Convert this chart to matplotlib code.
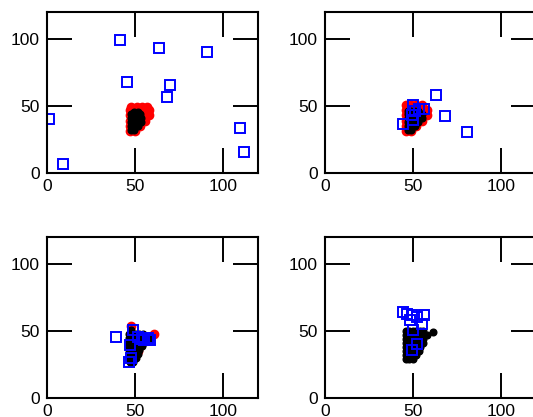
import matplotlib
matplotlib.use("Agg")
import matplotlib.pyplot as plt

plt.rcParams['font.family'] = ['Liberation Sans', 'DejaVu Sans']

# panel 1
red1_x = [47, 50, 47, 50, 53, 47, 50, 53, 56, 47, 50, 53, 56, 58, 47, 50, 53, 56, 58, 48, 51, 54, 57]
red1_y = [31, 31, 35, 35, 35, 39, 39, 39, 39, 43, 43, 43, 43, 43, 47, 47, 47, 47, 47, 49.5, 49.5, 49.5, 49.5]
black1_x = [47.5, 49.5, 47.5, 49.5, 51.5, 47.5, 49.5, 51.5, 53.5, 47.5, 49.5, 51.5, 53.5,
            47.5, 49.5, 51.5, 53, 49.5, 51.5]
black1_y = [32, 32, 35, 35, 35, 38, 38, 38, 38, 41, 41, 41, 41, 44, 44, 44, 44, 45.5, 45.5]
blue1_x = [1.1, 8.9, 41.8, 45.4, 63.6, 68.2, 70.1, 90.8, 110, 112]
blue1_y = [40.5, 6.4, 99.3, 68, 93, 56.5, 65.4, 89.9, 33.8, 15.3]

# panel 2
red2_x = [46, 49, 46, 49, 52, 46, 49, 52, 55, 46, 49, 52, 55, 58, 46, 49, 52, 55, 58, 46, 49, 52, 55]
red2_y = [31, 31, 35, 35, 35, 39, 39, 39, 39, 43, 43, 43, 43, 43, 47, 47, 47, 47, 47, 50.5, 50.5, 50.5, 50.5]
black2_x = [47, 49, 47, 49, 51, 47, 49, 51, 53, 47, 49, 51, 53, 55, 47, 49, 51, 53, 55, 47, 49, 51, 53]
black2_y = [32, 32, 35, 35, 35, 38, 38, 38, 38, 41, 41, 41, 41, 41, 44, 44, 44, 44, 44, 46, 46, 46, 46]
blue2_x = [50.3, 53.7, 56.4, 49.4, 50.3, 44.6, 63, 68, 80.7, 51]
blue2_y = [50.9, 47.9, 47.9, 43, 39.3, 36.3, 58, 42.2, 30.6, 46]

# panel 3
red3_x = [48, 61, 50, 52]
red3_y = [53.5, 47.5, 40, 35]
black3_x = [47, 49, 46.5, 48.5, 50.5, 46.5, 48.5, 50.5, 52, 46.5, 48.5, 50.5, 52.5,
            46.5, 48.5, 50.5, 52.5, 54, 46.5, 48.5, 50.5, 52.5, 54.5, 56,
            46.5, 48.5, 50.5, 52.5, 54.5, 56.5, 58.5, 46.5, 48.5, 50.5, 52.5, 54.5, 48]
black3_y = [27, 27, 30, 30, 30, 33, 33, 33, 33, 36, 36, 36, 36,
            39, 39, 39, 39, 39, 42, 42, 42, 42, 42, 42,
            45, 45, 45, 45, 45, 45, 45, 48, 48, 48, 48, 48, 51]
blue3_x = [39.3, 48.8, 47.3, 47.7, 46.9, 54.9, 57.2, 52, 58.7, 54]
blue3_y = [45.6, 50.9, 39.3, 30.1, 26.9, 43, 45, 45.4, 43, 44]

# panel 4
black4_x = [46, 48, 50, 46, 48, 50, 52, 46, 48, 50, 52, 53.5, 46, 48, 50, 52, 54,
            46, 48, 50, 52, 54, 55.5, 46, 48, 50, 52, 54, 56,
            46, 48, 50, 52, 54, 56, 58, 46, 48, 50, 52, 54, 56, 61.5]
black4_y = [29, 29, 29, 32, 32, 32, 32, 35, 35, 35, 35, 35, 38, 38, 38, 38, 38,
            41, 41, 41, 41, 41, 41, 44, 44, 44, 44, 44, 44,
            47, 47, 47, 47, 47, 47, 47, 50, 50, 50, 50, 50, 50, 49]
blue4_x = [44.3, 46.5, 49.4, 52.2, 56.4, 55.1, 50.3, 52.2, 49.4, 48.4]
blue4_y = [63.9, 62.7, 61.5, 60.2, 61.5, 55.3, 50.4, 40.5, 35.6, 58.3]

panels = [
    (red1_x, red1_y, black1_x, black1_y, blue1_x, blue1_y),
    (red2_x, red2_y, black2_x, black2_y, blue2_x, blue2_y),
    (red3_x, red3_y, black3_x, black3_y, blue3_x, blue3_y),
    ([], [], black4_x, black4_y, blue4_x, blue4_y),
]

fig = plt.figure(figsize=(5.33, 4.17), dpi=100)
W, H = 533.0, 417.0
boxes = [(47, 12), (325, 12), (47, 237), (325, 237)]
aw, ah = 211, 161

for (left, top), (rx, ry, kx, ky, bx, by) in zip(boxes, panels):
    ax = fig.add_axes([left / W, 1 - (top + ah) / H, aw / W, ah / H])
    ax.plot(rx, ry, 'o', color='#ff0000', ms=6.0, mec='#ff0000')
    ax.plot(kx, ky, 'o', color='black', ms=4.8)
    ax.plot(bx, by, 's', mfc='none', mec='#0000ff', ms=6.5, mew=1.4)
    ax.set_xlim(0, 120)
    ax.set_ylim(0, 120)
    ax.set_xticks([0, 50, 100])
    ax.set_yticks([0, 50, 100])
    ax.tick_params(direction='in', length=18, width=1.4, top=True, right=True,
                   labelsize=12.5, pad=4)
    ax.tick_params(axis='y', pad=5)
    for s in ax.spines.values():
        s.set_linewidth(1.5)

fig.savefig("out.png", dpi=100)
